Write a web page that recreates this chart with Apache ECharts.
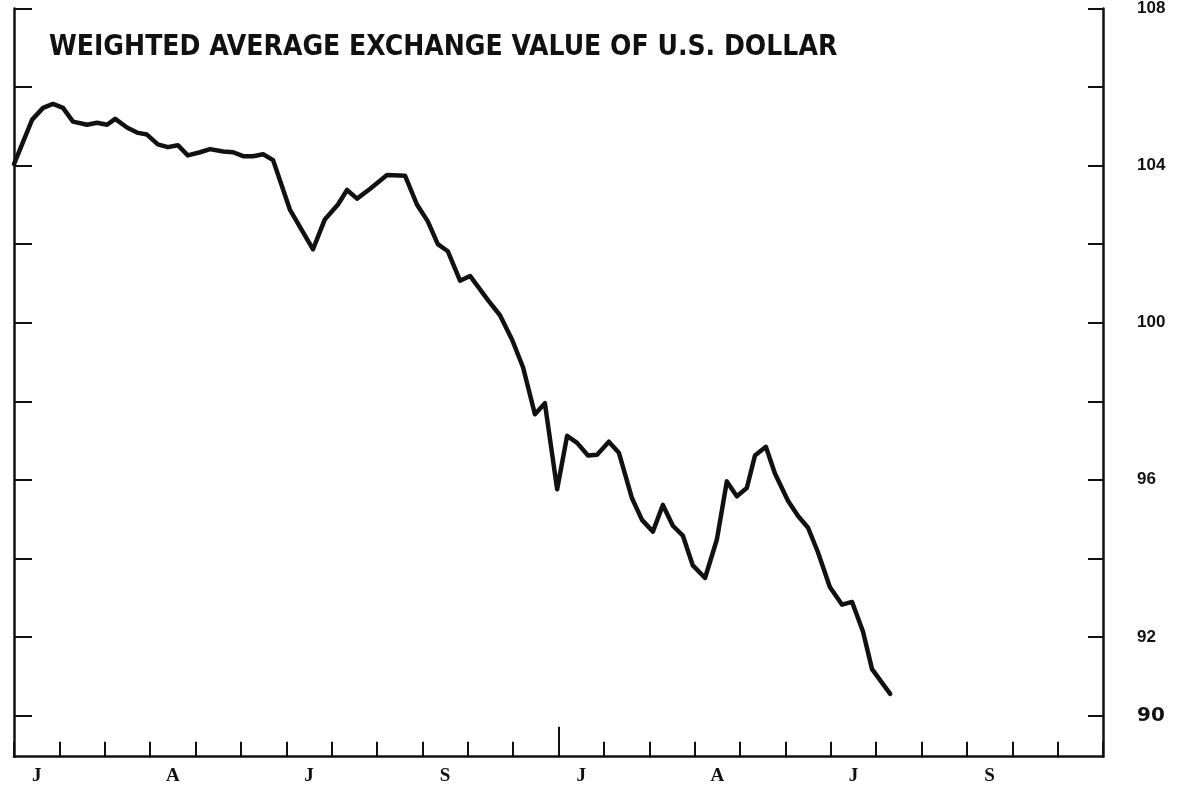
<!DOCTYPE html>
<html>
<head>
<meta charset="utf-8">
<title>Weighted average exchange value of U.S. dollar</title>
<script src="https://cdn.jsdelivr.net/npm/echarts@6.0.0/dist/echarts.min.js"></script>
<style>
    html, body {margin: 0; padding: 0; background: #fff;}
    #chart {width: 1188px; height: 786px;}
</style>
</head>
<body>
<div id="chart"></div>
<script>
// 月份刻度 (24 months, label only on quarters)
var monthLabels = ['J', '', '', 'A', '', '', 'J', '', '', 'S', '', '',
                   'J', '', '', 'A', '', '', 'J', '', '', 'S', '', ''];
// position of each weekly reading, in months from the left edge
var monthPos = [0, 0.40, 0.64, 0.86, 1.08, 1.30, 1.61, 1.83, 2.05, 2.23,
                2.49, 2.71, 2.93, 3.17, 3.39, 3.61, 3.83, 4.10, 4.32, 4.61,
                4.83, 5.05, 5.27, 5.49, 5.71, 6.08, 6.59, 6.85, 7.14, 7.34,
                7.56, 7.85, 8.22, 8.62, 8.88, 9.12, 9.34, 9.56, 9.83, 10.05,
                10.45, 10.71, 10.98, 11.22, 11.48, 11.70, 11.97, 12.19, 12.41, 12.65,
                12.85, 13.11, 13.33, 13.62, 13.84, 14.08, 14.30, 14.52, 14.74, 14.96,
                15.23, 15.49, 15.71, 15.93, 16.15, 16.33, 16.57, 16.77, 17.06, 17.28,
                17.50, 17.72, 17.98, 18.25, 18.47, 18.71, 18.91, 19.31];
// 美元加权平均汇率指数
var dollarIndex = [104.04, 105.17, 105.47, 105.57, 105.47, 105.12, 105.04, 105.09, 105.04, 105.19,
                   104.97, 104.84, 104.79, 104.54, 104.47, 104.52, 104.26, 104.34, 104.42, 104.36,
                   104.34, 104.24, 104.24, 104.29, 104.14, 102.88, 101.87, 102.63, 103.01, 103.38,
                   103.16, 103.41, 103.76, 103.74, 103.01, 102.58, 102.00, 101.82, 101.07, 101.19,
                   100.57, 100.19, 99.56, 98.86, 97.67, 97.95, 95.76, 97.12, 96.94, 96.62,
                   96.64, 96.97, 96.69, 95.53, 94.98, 94.68, 95.36, 94.83, 94.58, 93.82,
                   93.50, 94.48, 95.96, 95.58, 95.79, 96.62, 96.84, 96.16, 95.46, 95.08,
                   94.78, 94.15, 93.27, 92.82, 92.89, 92.14, 91.18, 90.55];
var yTicks = [90, 92, 94, 96, 98, 100, 102, 104, 106, 108];
var yLabels = [90, 92, 96, 100, 104, 108];
var yearTick = [12];

var lineData = [];
for (var i = 0; i < monthPos.length; i++) {
    lineData.push([monthPos[i], dollarIndex[i]]);
}

var ink = '#111';
var myChart = echarts.init(document.getElementById('chart'));

var option = {
    backgroundColor: '#fff',
    animation: false,
    title: {
        text: 'WEIGHTED AVERAGE EXCHANGE VALUE OF U.S. DOLLAR',
        left: 44,
        top: 29,
        textStyle: {
            fontFamily: '"DejaVu Sans Condensed", "Liberation Sans Narrow", "Liberation Sans"',
            fontWeight: 'bold',
            fontSize: 28,
            color: ink
        }
    },
    grid: {
        left: 14,
        right: 85,
        top: -0.5,
        bottom: 29.3
    },
    xAxis: [
        {
            type: 'category',
            data: monthLabels,
            boundaryGap: true,
            position: 'bottom',
            axisLine: {show: true, onZero: false, lineStyle: {color: ink, width: 2.5}},
            axisTick: {show: true, inside: true, length: 15, interval: 0, lineStyle: {color: ink, width: 2}},
            axisLabel: {
                interval: 0,
                margin: 10,
                color: ink,
                fontFamily: 'Liberation Serif',
                fontWeight: 'bold',
                fontSize: 19
            },
            splitLine: {show: false}
        },
        {
            // hidden value axis for the weekly points; also draws the year tick
            type: 'value',
            min: 0,
            max: 24,
            position: 'bottom',
            axisLine: {show: false, onZero: false},
            axisTick: {show: true, inside: true, length: 30, customValues: yearTick,
                lineStyle: {color: ink, width: 2}},
            axisLabel: {show: false},
            splitLine: {show: false}
        }
    ],
    yAxis: [
        {
            type: 'value',
            position: 'right',
            min: 88.95,
            max: 108,
            axisLine: {show: true, onZero: false, lineStyle: {color: ink, width: 2.5}},
            axisTick: {show: true, inside: true, length: 15, customValues: yTicks,
                lineStyle: {color: ink, width: 2}},
            axisLabel: {
                customValues: yLabels,
                margin: 34,
                color: ink,
                formatter: function (v) {
                    if (v == 90) return '{big|90}';
                    return '{num|' + v + '}';
                },
                rich: {
                    num: {fontFamily: 'Liberation Sans', fontWeight: 'bold', fontSize: 17, color: ink},
                    big: {fontFamily: 'DejaVu Sans', fontWeight: 'bold', fontSize: 20, color: ink}
                }
            },
            splitLine: {show: false}
        },
        {
            type: 'value',
            position: 'left',
            min: 88.95,
            max: 108,
            axisLine: {show: true, onZero: false, lineStyle: {color: ink, width: 2.5}},
            axisTick: {show: true, inside: true, length: 18, customValues: yTicks,
                lineStyle: {color: ink, width: 2}},
            axisLabel: {show: false},
            splitLine: {show: false}
        }
    ],
    series: [
        {
            name: 'dollar',
            type: 'line',
            xAxisIndex: 1,
            yAxisIndex: 0,
            data: lineData,
            symbol: 'none',
            smooth: false,
            clip: false,
            lineStyle: {color: ink, width: 4.5, join: 'round', cap: 'round'}
        }
    ]
};
myChart.setOption(option);
</script>
</body>
</html>
